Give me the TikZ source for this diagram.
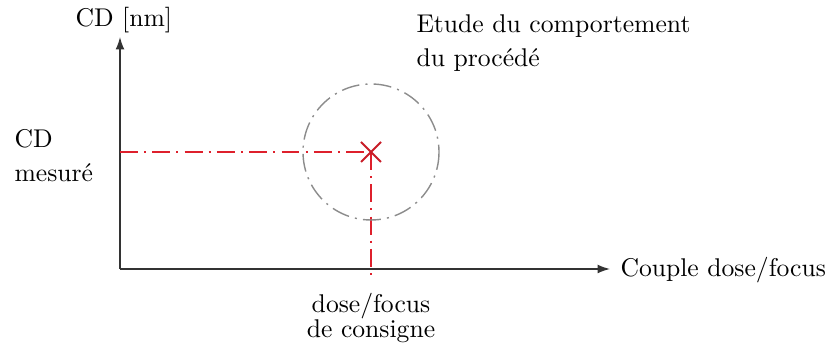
\documentclass[tikz,border=0pt]{standalone}
\usepackage{tikz}
\usetikzlibrary{calc,positioning,arrows.meta}

\definecolor{mesred}{RGB}{222,32,44}
\definecolor{zonegrey}{RGB}{140,140,140}

\tikzset{
  axis/.style={-{Latex[length=4.8pt,width=3.4pt]}, line width=0.5pt, black!80},
  mesline/.style={mesred, line width=0.55pt, dash pattern=on 7pt off 2.4pt on 0.8pt off 2.4pt},
  zone/.style={zonegrey, line width=0.55pt, dash pattern=on 7pt off 2.4pt on 0.8pt off 2.4pt},
  lbl/.style={inner sep=0pt, align=left}
}

\begin{document}
\begin{tikzpicture}[x=0.39pt, y=-0.39pt]
\useasboundingbox (0,0) rectangle (830,347);

% axes
\coordinate (O) at (120,269);
\coordinate (ytop) at (120,37);
\coordinate (xend) at (610,269);
\draw[axis] (O) -- (ytop);
\draw[axis] (O) -- (xend);

% point de mesure
\coordinate (P) at (371,152);
\coordinate (Pleft) at (120,152);
\coordinate (Pdown) at (371,277);
\draw[mesline] (Pleft) -- (P);
\draw[mesline] (P) -- (Pdown);
\draw[zone] (P) circle (68);
\draw[mesred!90!black, line width=0.7pt] ($(P)+(-10,-10)$) -- ($(P)+(10,10)$)
  ($(P)+(-10,10)$) -- ($(P)+(10,-10)$);

% textes
\node[lbl, anchor=base west] (ylab) at (75,27) {CD [nm]};
\node[lbl, anchor=west] (xlab) at (620,270) {Couple dose/focus};
\node[lbl, anchor=base west] (cdmes) at (14,148) {CD};
\node[lbl, anchor=base west] (cdmes2) at (14,182) {mesur\'e};
\node[inner sep=0pt, anchor=base] (consigne) at (371,313) {dose/focus};
\node[inner sep=0pt, anchor=base] (consigne2) at (371,338) {de consigne};
\node[lbl, anchor=base west] (etude) at (416,33) {Etude du comportement};
\node[lbl, anchor=base west] (etude2) at (416,67) {du proc\'ed\'e};

\end{tikzpicture}
\end{document}
